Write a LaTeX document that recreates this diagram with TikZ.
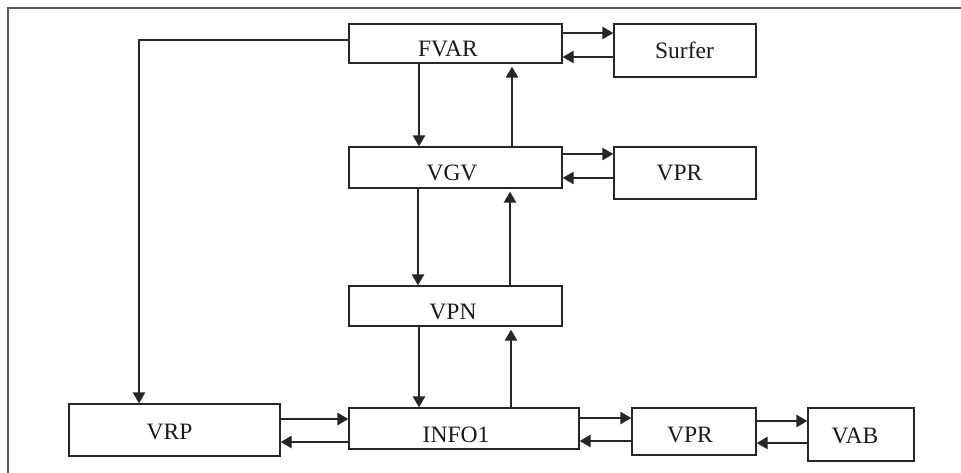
\documentclass[tikz,border=0pt]{standalone}
\usepackage{fontspec}
\setmainfont{Liberation Serif}
\usetikzlibrary{arrows.meta}
\begin{document}
\begin{tikzpicture}[x=1pt,y=-1pt,
  box/.style={draw=black!85,line width=1.4pt,rectangle,inner sep=0pt},
  txt/.style={anchor=base,inner sep=0pt,text=black!90,font=\fontsize{23.5}{28}\selectfont},
  arr/.style={draw=black!85,line width=1.4pt,-{Triangle[length=11pt,width=12.5pt]}},
  up/.style={arr,shorten >=3pt}]
\useasboundingbox (0,0) rectangle (961,472);
\draw[black!65,line width=1.6pt] (8,473) -- (8,8) -- (962,8);
% boxes
\node[box,minimum width=213pt,minimum height=39pt] (fvar) at (455.5,43.5) {};
\node[box,minimum width=142pt,minimum height=53pt] (surfer) at (685,50.5) {};
\node[box,minimum width=213pt,minimum height=41pt] (vgv) at (455.5,167.5) {};
\node[box,minimum width=142pt,minimum height=52pt] (vprt) at (685,173) {};
\node[box,minimum width=213pt,minimum height=40pt] (vpn) at (455.5,306) {};
\node[box,minimum width=230pt,minimum height=41pt] (info) at (464,428.5) {};
\node[box,minimum width=211pt,minimum height=52pt] (vrp) at (174.5,430) {};
\node[box,minimum width=124pt,minimum height=47pt] (vprb) at (694,431.5) {};
\node[box,minimum width=106pt,minimum height=53pt] (vab) at (861,434.5) {};
% labels
\node[txt] (fvart) at (448,56) {FVAR};
\node[txt] (surfert) at (684.5,58) {Surfer};
\node[txt] (vgvt) at (452,180) {VGV};
\node[txt] (vprtt) at (679.5,180) {VPR};
\node[txt] (vpnt) at (453,319) {VPN};
\node[txt] (infot) at (456,442) {INFO1};
\node[txt] (vrpt) at (169.5,439) {VRP};
\node[txt] (vprbt) at (690,442) {VPR};
\node[txt] (vabt) at (855,443) {VAB};
% horizontal pairs
\draw[arr] (fvar.east |- 0,33) -- (surfer.west |- 0,33);
\draw[arr] (surfer.west |- 0,57) -- (fvar.east |- 0,57);
\draw[arr] (vgv.east |- 0,154) -- (vprt.west |- 0,154);
\draw[arr] (vprt.west |- 0,178) -- (vgv.east |- 0,178);
\draw[arr] (vrp.east |- 0,419) -- (info.west |- 0,419);
\draw[arr] (info.west |- 0,442) -- (vrp.east |- 0,442);
\draw[arr] (info.east |- 0,418) -- (vprb.west |- 0,418);
\draw[arr] (vprb.west |- 0,441) -- (info.east |- 0,441);
\draw[arr] (vprb.east |- 0,421) -- (vab.west |- 0,421);
\draw[arr] (vab.west |- 0,443) -- (vprb.east |- 0,443);
% vertical pairs
\draw[arr] (fvar.south -| 419,0) -- (vgv.north -| 419,0);
\draw[up] (vgv.north -| 512,0) -- (fvar.south -| 512,0);
\draw[arr] (vgv.south -| 418,0) -- (vpn.north -| 418,0);
\draw[up] (vpn.north -| 510,0) -- (vgv.south -| 510,0);
\draw[arr] (vpn.south -| 419,0) -- (info.north -| 419,0);
\draw[up] (info.north -| 511,0) -- (vpn.south -| 511,0);
% FVAR to VRP
\draw[arr] (fvar.west |- 0,40) -| (vrp.north -| 139,0);
\end{tikzpicture}
\end{document}
